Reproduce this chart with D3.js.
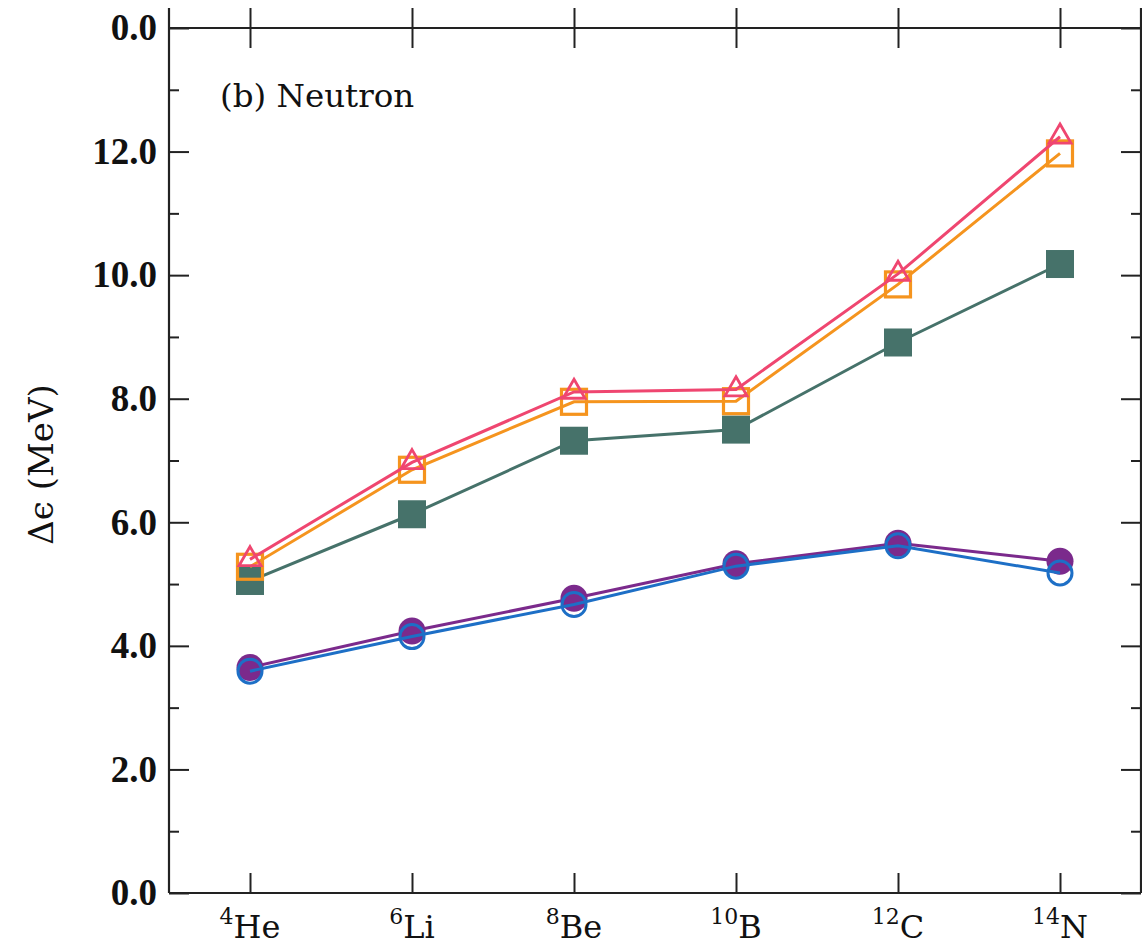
<!DOCTYPE html>
<html>
<head>
<meta charset="utf-8">
<script src="https://d3js.org/d3.v7.min.js"></script>
<style>
    body { margin: 0; background: #fff; }
    .y_tick text { font-family: "Liberation Serif", serif; font-weight: bold; font-size: 37px; fill: #111; }
</style>
</head>
<body>
<div id="chart"></div>
<script>
// Nuclei on the x axis
var massNumbers = ["4", "6", "8", "10", "12", "14"];
var elements = ["He", "Li", "Be", "B", "C", "N"];

// Delta epsilon (MeV) for each series
var triangleOpen = [5.40, 6.97, 8.11, 8.15, 10.02, 12.24];
var squareOpen = [5.28, 6.85, 7.95, 7.96, 9.85, 11.97];
var squareFilled = [5.05, 6.13, 7.32, 7.50, 8.91, 10.18];
var circleFilled = [3.65, 4.24, 4.77, 5.33, 5.66, 5.37];
var circleOpen = [3.59, 4.15, 4.67, 5.29, 5.62, 5.18];

// Tick values and labels (top label belongs to the panel above)
var yMajor = [0, 2, 4, 6, 8, 10, 12, 14];
var yMajorLabels = ["0.0", "2.0", "4.0", "6.0", "8.0", "10.0", "12.0", "0.0"];
var yMinor = [1, 3, 5, 7, 9, 11, 13];

var width = 1142, height = 945;
var margin = { top: 28, right: 1, bottom: 52, left: 169 };

var svg = d3.select("#chart").append("svg")
    .attr("width", width)
    .attr("height", height);

var x = d3.scaleLinear()
    .domain([-0.5, 5.5])
    .range([margin.left, width - margin.right]);

var y = d3.scaleLinear()
    .domain([0, 14])
    .range([height - margin.bottom, margin.top]);

var idx = d3.range(massNumbers.length);
var axisColor = "#222";

// Left axis, ticks pointing inward
svg.append("g")
    .attr("class", "y_tick")
    .attr("transform", "translate(" + margin.left + ",0)")
    .call(d3.axisLeft(y).tickValues(yMajor)
        .tickFormat(function (d, i) { return yMajorLabels[i]; })
        .tickSize(-20).tickPadding(12));

svg.append("g")
    .attr("transform", "translate(" + margin.left + ",0)")
    .call(d3.axisLeft(y).tickValues(yMinor).tickFormat("").tickSize(-10));

// Right axis
svg.append("g")
    .attr("transform", "translate(" + (width - margin.right) + ",0)")
    .call(d3.axisRight(y).tickValues(yMajor).tickFormat("").tickSize(-20));

svg.append("g")
    .attr("transform", "translate(" + (width - margin.right) + ",0)")
    .call(d3.axisRight(y).tickValues(yMinor).tickFormat("").tickSize(-10));

// Bottom axis
svg.append("g")
    .attr("transform", "translate(0," + y(0) + ")")
    .call(d3.axisBottom(x).tickValues(idx).tickFormat("").tickSize(-20));

// Top ticks cross the frame (shared with the panel above)
svg.append("g")
    .attr("transform", "translate(0," + (y(14) - 20) + ")")
    .call(d3.axisBottom(x).tickValues(idx).tickFormat("").tickSize(40));

svg.selectAll(".domain").remove();
svg.selectAll(".tick line")
    .attr("stroke", axisColor)
    .attr("stroke-width", 2);

// Frame
svg.append("line")
    .attr("x1", x(-0.5)).attr("x2", x(-0.5))
    .attr("y1", y(14) - 20).attr("y2", y(0))
    .attr("stroke", axisColor).attr("stroke-width", 2.2);
svg.append("line")
    .attr("x1", x(5.5)).attr("x2", x(5.5))
    .attr("y1", y(14) - 20).attr("y2", y(0))
    .attr("stroke", axisColor).attr("stroke-width", 2.2);
svg.append("line")
    .attr("x1", x(-0.5)).attr("x2", x(5.5))
    .attr("y1", y(0)).attr("y2", y(0))
    .attr("stroke", axisColor).attr("stroke-width", 2.2);
svg.append("line")
    .attr("x1", x(-0.5)).attr("x2", x(5.5))
    .attr("y1", y(14)).attr("y2", y(14))
    .attr("stroke", axisColor).attr("stroke-width", 2.2);

// X labels with mass number superscript
var xLabels = svg.append("g").selectAll("text")
    .data(idx)
    .enter().append("text")
    .attr("x", function (d) { return x(d); })
    .attr("y", y(0) + 45)
    .attr("text-anchor", "middle")
    .style("font-family", "'DejaVu Serif', serif")
    .style("fill", "#111");

xLabels.append("tspan")
    .attr("dy", -14)
    .style("font-size", "22px")
    .text(function (d) { return massNumbers[d]; });

xLabels.append("tspan")
    .attr("dy", 14)
    .style("font-size", "32px")
    .text(function (d) { return elements[d]; });

// Y axis title
svg.append("text")
    .attr("transform", "translate(53," + (y(7) + 4) + ") rotate(-90)")
    .attr("text-anchor", "middle")
    .style("font-family", "'DejaVu Serif', serif")
    .style("font-size", "34px")
    .style("fill", "#111")
    .text("\u0394\u03f5 (MeV)");

// Panel label
svg.append("text")
    .attr("x", 220)
    .attr("y", 107)
    .style("font-family", "'DejaVu Serif', serif")
    .style("font-size", "32.5px")
    .style("fill", "#111")
    .text("(b) Neutron");

// Series lines and markers
var line = d3.line()
    .x(function (d, i) { return x(i); })
    .y(function (d) { return y(d); });

function drawLine(values, color) {
    svg.append("path")
        .datum(values)
        .attr("d", line)
        .attr("fill", "none")
        .attr("stroke", color)
        .attr("stroke-width", 3);
}

function drawSquares(values, color, filled) {
    var s = filled ? 28 : 25;
    svg.append("g").selectAll("rect")
        .data(values)
        .enter().append("rect")
        .attr("x", function (d, i) { return x(i) - s / 2; })
        .attr("y", function (d) { return y(d) - s / 2; })
        .attr("width", s)
        .attr("height", s)
        .attr("fill", filled ? color : "none")
        .attr("stroke", filled ? "none" : color)
        .attr("stroke-width", 3.2);
}

function drawCircles(values, color, filled) {
    svg.append("g").selectAll("circle")
        .data(values)
        .enter().append("circle")
        .attr("cx", function (d, i) { return x(i); })
        .attr("cy", function (d) { return y(d); })
        .attr("r", filled ? 13.5 : 12)
        .attr("fill", filled ? color : "none")
        .attr("stroke", filled ? "none" : color)
        .attr("stroke-width", 3);
}

function drawTriangles(values, color) {
    var tri = d3.symbol().type(d3.symbolTriangle).size(210);
    svg.append("g").selectAll("path")
        .data(values)
        .enter().append("path")
        .attr("d", tri)
        .attr("transform", function (d, i) { return "translate(" + x(i) + "," + y(d) + ")"; })
        .attr("fill", "none")
        .attr("stroke", color)
        .attr("stroke-width", 2.8);
}

var green = "#46726a", orange = "#f5941e", pink = "#ef4670", purple = "#7b2a8c", blue = "#1d6fc6";

drawLine(squareFilled, green);
drawSquares(squareFilled, green, true);
drawLine(squareOpen, orange);
drawSquares(squareOpen, orange, false);
drawLine(triangleOpen, pink);
drawTriangles(triangleOpen, pink);

drawLine(circleFilled, purple);
drawCircles(circleFilled, purple, true);
drawLine(circleOpen, blue);
drawCircles(circleOpen, blue, false);
</script>
</body>
</html>
